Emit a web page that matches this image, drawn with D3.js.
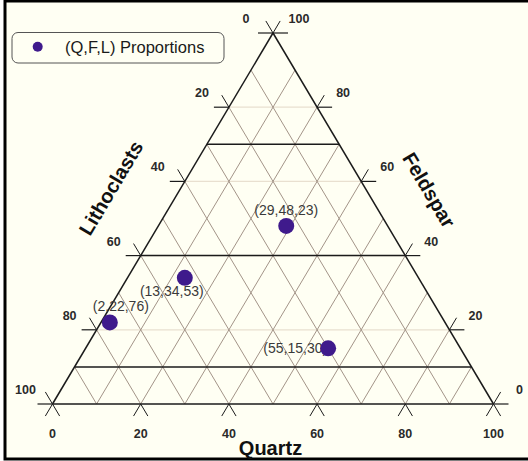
<!DOCTYPE html>
<html>
<head>
<meta charset="utf-8">
<script src="https://cdn.jsdelivr.net/npm/d3@7/dist/d3.min.js"></script>
<style>
html,body{margin:0;padding:0;background:#fff;}
svg{display:block;}
text{font-family:"Liberation Sans",Arial,sans-serif;}
</style>
</head>
<body>
<svg id="chart" width="528" height="461"></svg>
<script>
// ---- data ----
const samples = ["A", "B", "C", "D"];
const quartz = [29, 13, 2, 55];
const feldspar = [48, 34, 22, 15];
const lithoclasts = [23, 53, 76, 30];
const gridSteps = [0, 10, 20, 30, 40, 50, 60, 70, 80, 90, 100];
const tickValues = [0, 20, 40, 60, 80, 100];
const faintLevels = [20, 40, 60, 80];
const boundaryLevels = [10, 40, 70];
const legendLabel = "(Q,F,L) Proportions";
const axisTitles = { bottom: "Quartz", left: "Lithoclasts", right: "Feldspar" };

// ---- setup ----
const svg = d3.select("#chart");
svg.append("rect").attr("x", 5).attr("y", 1).attr("width", 540).attr("height", 458)
  .attr("fill", "#FFFFF3").attr("stroke", "#000").attr("stroke-width", 3);

const xs = d3.scaleLinear().domain([0, 100]).range([52.5, 493.5]);
const ys = d3.scaleLinear().domain([0, 100]).range([404, 33]);
// ternary -> pixel (Q, F)
const P = (q, f) => [xs(q + f / 2), ys(f)];

// unit directions
const dl = [xs(50) - xs(0), ys(100) - ys(0)];
const ll = Math.hypot(dl[0], dl[1]);
const uL = [dl[0] / ll, dl[1] / ll];          // along left edge, upward (/)
const uR = [-uL[0], uL[1]];                    // along right edge, upward (\)
const TL = 14, HL = 15;

const g = svg.append("g");
const line = (a, b, stroke, sw) => g.append("line")
  .attr("x1", a[0]).attr("y1", a[1]).attr("x2", b[0]).attr("y2", b[1])
  .attr("stroke", stroke).attr("stroke-width", sw);

// faint horizontal grid
faintLevels.forEach(f => line(P(0, f), P(100 - f, f), "#E9E0D0", 1.2));

// diagonal grid
const gridCol = "#A39488";
gridSteps.filter(v => v > 0 && v < 100).forEach(v => {
  line(P(v, 0), P(v, 100 - v), gridCol, 1);          // constant Q
  line(P(100 - v, 0), P(0, 100 - v), gridCol, 1);    // constant L = v
});

// boundary lines (dark)
boundaryLevels.forEach(f => line(P(0, f), P(100 - f, f), "#1b1b1b", 1.5));

// triangle edges
line(P(0, 0), P(100, 0), "#1b1b1b", 1.5);
line(P(0, 0), P(0, 100), "#1b1b1b", 1.5);
line(P(100, 0), P(0, 100), "#1b1b1b", 1.5);

// ticks
const tickCol = "#1b1b1b";
tickValues.forEach(v => {
  const b = P(v, 0);
  line(b, [b[0] - TL * uL[0], b[1] - TL * uL[1]], tickCol, 1);
  line(b, [b[0] - TL * uR[0], b[1] - TL * uR[1]], tickCol, 1);
  const l = P(0, v);
  line(l, [l[0] - HL, l[1]], tickCol, 1.2);
  line(l, [l[0] + TL * uR[0], l[1] + TL * uR[1]], tickCol, 1);
  const r = P(100 - v, v);
  line(r, [r[0] + HL, r[1]], tickCol, 1.2);
  line(r, [r[0] + TL * uL[0], r[1] + TL * uL[1]], tickCol, 1);
});

// tick labels
const lab = svg.append("g").attr("font-size", 12.5).attr("font-weight", "bold").attr("fill", "#2a2a2a");
tickValues.forEach(v => {
  const b = P(v, 0);
  lab.append("text").attr("x", b[0]).attr("y", b[1] + 34).attr("text-anchor", "middle").text(v);
  const l = P(0, v);
  lab.append("text").attr("x", l[0] - 27).attr("y", l[1] - 10).attr("text-anchor", "middle").text(100 - v);
  const r = P(100 - v, v);
  lab.append("text").attr("x", r[0] + 26).attr("y", r[1] - 10).attr("text-anchor", "middle").text(v);
});

// axis titles
const ang = Math.atan2(-dl[1], dl[0]) * 180 / Math.PI;
svg.append("text").attr("x", 270.5).attr("y", 455).attr("text-anchor", "middle")
  .attr("font-size", 20).attr("font-weight", "bold").attr("fill", "#111").text(axisTitles.bottom);
svg.append("text").attr("transform", `translate(111,188) rotate(${-ang})`)
  .attr("text-anchor", "middle").attr("dominant-baseline", "central")
  .attr("font-size", 20).attr("font-weight", "bold").attr("fill", "#111").text(axisTitles.left);
svg.append("text").attr("transform", `translate(429,190) rotate(${ang})`)
  .attr("text-anchor", "middle").attr("dominant-baseline", "central")
  .attr("font-size", 20).attr("font-weight", "bold").attr("fill", "#111").text(axisTitles.right);

// data points
const data = samples.map((s, i) => ({ q: quartz[i], f: feldspar[i], l: lithoclasts[i] }));
const labelOffsets = [[0, -11, "middle"], [-13, 18, "middle"], [11, -11, "middle"], [-1, 5, "end"]];
const pg = svg.append("g");
data.forEach((d, i) => {
  const p = P(d.q, d.f);
  const o = labelOffsets[i];
  pg.append("text").attr("x", p[0] + o[0]).attr("y", p[1] + o[1]).attr("text-anchor", o[2])
    .attr("font-size", 14).attr("fill", "#3a3a3a").text(`(${d.q},${d.f},${d.l})`);
});
data.forEach(d => {
  const p = P(d.q, d.f);
  pg.append("circle").attr("cx", p[0]).attr("cy", p[1]).attr("r", 8).attr("fill", "#3F1A8C");
});

// legend
const lg = svg.append("g");
lg.append("rect").attr("x", 12).attr("y", 32.5).attr("width", 212).attr("height", 30.5).attr("rx", 6)
  .attr("fill", "#FFFFF3").attr("stroke", "#555").attr("stroke-width", 1);
lg.append("circle").attr("cx", 37.7).attr("cy", 46.7).attr("r", 5).attr("fill", "#3F1A8C");
lg.append("text").attr("x", 65).attr("y", 52.5).attr("font-size", 16.5).attr("fill", "#1a1a1a").text(legendLabel);
</script>
</body>
</html>
